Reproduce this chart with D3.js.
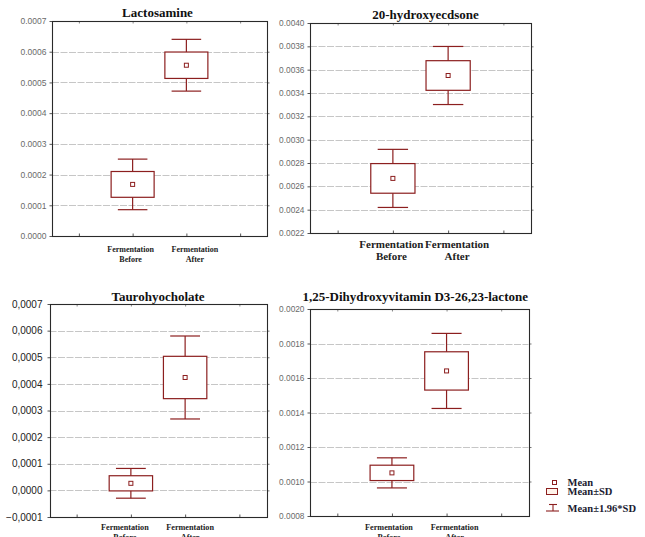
<!DOCTYPE html>
<html><head><meta charset="utf-8">
<script src="https://cdn.jsdelivr.net/npm/d3@7"></script>
<style>
html,body{margin:0;padding:0;background:#fff;}
svg{display:block;}
</style></head>
<body>
<svg id="chart" width="645" height="537"></svg>
<script>
// ---------------- data ----------------
const categories = ["Before", "After"];
const categoryLabelTop = "Fermentation";

const lactosamineMean = [0.000168, 0.000556];
const lactosamineSD   = [0.000042, 0.000043];
const lactosamineTicks = [0.0000, 0.0001, 0.0002, 0.0003, 0.0004, 0.0005, 0.0006, 0.0007];

const hydroxyecdsoneMean = [0.002668, 0.003550];
const hydroxyecdsoneSD   = [0.000127, 0.000127];
const hydroxyecdsoneTicks = [0.0022, 0.0024, 0.0026, 0.0028, 0.0030, 0.0032, 0.0034, 0.0036, 0.0038, 0.0040];

const taurohyocholateMean = [0.0000265, 0.000424];
const taurohyocholateSD   = [0.0000285, 0.0000795];
const taurohyocholateTicks = [-0.0001, 0.0000, 0.0001, 0.0002, 0.0003, 0.0004, 0.0005, 0.0006, 0.0007];

const vitaminMean = [0.001050, 0.001641];
const vitaminSD   = [0.0000445, 0.000111];
const vitaminTicks = [0.0008, 0.0010, 0.0012, 0.0014, 0.0016, 0.0018, 0.0020];

const legendLabels = ["Mean", "Mean\u00B1SD", "Mean\u00B11.96*SD"];
const whiskerFactor = 1.96;

// ---------------- layout ----------------
const BOX = "#8c1f1f";
const svg = d3.select("#chart");
const commaFmt = d3.formatLocale({decimal: ",", thousands: ".", grouping: [3], currency: ["", ""]}).format(".4f");
const dotFmt = d3.format(".4f");

const panels = [
  {title: "Lactosamine", mean: lactosamineMean, sd: lactosamineSD, ticks: lactosamineTicks,
   l: 52, r: 267, t: 21, b: 236, titleY: 16.5, titleDx: -2,
   fmt: dotFmt, tickFont: 8.5, tickColor: "#6a6a6a", tickGap: 3,
   xFont: 8, xY1: 16, xY2: 26, labelDx: [-2, 8.5]},
  {title: "20-hydroxyecdsone", mean: hydroxyecdsoneMean, sd: hydroxyecdsoneSD, ticks: hydroxyecdsoneTicks,
   l: 310, r: 531, t: 23, b: 233, titleY: 18.5, titleDx: 5,
   fmt: dotFmt, tickFont: 8.3, tickColor: "#6a6a6a", tickGap: 3,
   xFont: 11, xY1: 14.5, xY2: 27, labelDx: [-1.5, 9]},
  {title: "Taurohyocholate", mean: taurohyocholateMean, sd: taurohyocholateSD, ticks: taurohyocholateTicks,
   l: 49.5, r: 266.5, t: 304, b: 517, titleY: 301, titleDx: 0,
   fmt: commaFmt, tickFont: 10, tickColor: "#222", tickGap: 5,
   xFont: 8.2, xY1: 13, xY2: 23, labelDx: [-6, 5]},
  {title: "1,25-Dihydroxyvitamin D3-26,23-lactone", mean: vitaminMean, sd: vitaminSD, ticks: vitaminTicks,
   l: 310, r: 528.5, t: 309, b: 516, titleY: 300.5, titleDx: -4,
   fmt: dotFmt, tickFont: 8.3, tickColor: "#6a6a6a", tickGap: 3,
   xFont: 8.2, xY1: 13.5, xY2: 23.5, labelDx: [-3, 8]}
];

const xSlots = ["pad0", ...categories, "pad3"];

panels.forEach(p => {
  const g = svg.append("g");
  const x = d3.scalePoint().domain(xSlots).range([p.l, p.r]).padding(0.5);
  const y = d3.scaleLinear().domain(d3.extent(p.ticks)).range([p.b, p.t]);
  const step = x.step();

  // gridlines
  g.selectAll(".grid").data(p.ticks.slice(1, -1)).join("line")
    .attr("x1", p.l).attr("x2", p.r)
    .attr("y1", d => Math.round(y(d)) + 0.5).attr("y2", d => Math.round(y(d)) + 0.5)
    .attr("stroke", "#c6c6c6").attr("stroke-width", 1).attr("stroke-dasharray", "7,1.5");

  // y axis (left)
  const yAxis = d3.axisLeft(y).tickValues(p.ticks).tickFormat(p.fmt).tickSize(3).tickPadding(p.tickGap);
  const ya = g.append("g").attr("transform", `translate(${Math.round(p.l) + 0.5},0)`).call(yAxis);
  ya.select(".domain").remove();
  ya.selectAll(".tick line").attr("stroke", "#555");
  ya.selectAll("text").attr("font-family", "Liberation Sans, Arial, sans-serif")
    .attr("font-size", p.tickFont).attr("fill", p.tickColor);

  // right ticks
  const yr = g.append("g").attr("transform", `translate(${Math.round(p.r) + 0.5},0)`)
    .call(d3.axisRight(y).tickValues(p.ticks.slice(1, -1)).tickSize(2).tickFormat(""));
  yr.select(".domain").remove();
  yr.selectAll(".tick line").attr("stroke", "#777");

  // x axis ticks (inward) bottom and top
  const xb = g.append("g").attr("transform", `translate(0,${Math.round(p.b) + 0.5})`)
    .call(d3.axisTop(x).tickSize(3).tickFormat(""));
  xb.select(".domain").remove();
  xb.selectAll(".tick line").attr("stroke", "#555");
  const xt = g.append("g").attr("transform", `translate(0,${Math.round(p.t) + 0.5})`)
    .call(d3.axisBottom(x).tickSize(2).tickFormat(""));
  xt.select(".domain").remove();
  xt.selectAll(".tick line").attr("stroke", "#888");

  // frame
  g.append("rect")
    .attr("x", Math.round(p.l) + 0.5).attr("y", Math.round(p.t) + 0.5)
    .attr("width", Math.round(p.r) - Math.round(p.l)).attr("height", Math.round(p.b) - Math.round(p.t))
    .attr("fill", "none").attr("stroke", "#2a2a2a").attr("stroke-width", 1.1);

  // category labels
  categories.forEach((c, i) => {
    const cx = x(c) + p.labelDx[i];
    const t = g.append("text").attr("x", cx).attr("text-anchor", "middle")
      .attr("font-family", "Liberation Serif, Times New Roman, serif").attr("font-weight", "bold")
      .attr("font-size", p.xFont).attr("fill", "#222");
    t.append("tspan").attr("x", cx).attr("y", p.b + p.xY1).text(categoryLabelTop);
    t.append("tspan").attr("x", cx).attr("y", p.b + p.xY2).text(c);
  });

  // title
  g.append("text").attr("x", (p.l + p.r) / 2 + p.titleDx).attr("y", p.titleY)
    .attr("text-anchor", "middle")
    .attr("font-family", "Liberation Serif, Times New Roman, serif").attr("font-weight", "bold")
    .attr("font-size", 13).attr("fill", "#111").text(p.title);

  // boxes
  const data = categories.map((c, i) => ({c, m: p.mean[i], s: p.sd[i]}));
  const bw = step * 0.8, cw = step * 0.55;
  const bx = g.selectAll(".bx").data(data).join("g");
  bx.append("line").attr("x1", d => x(d.c)).attr("x2", d => x(d.c))
    .attr("y1", d => y(d.m + whiskerFactor * d.s)).attr("y2", d => y(d.m - whiskerFactor * d.s))
    .attr("stroke", BOX).attr("stroke-width", 1.2);
  bx.append("line").attr("x1", d => x(d.c) - cw / 2).attr("x2", d => x(d.c) + cw / 2)
    .attr("y1", d => y(d.m + whiskerFactor * d.s)).attr("y2", d => y(d.m + whiskerFactor * d.s))
    .attr("stroke", BOX).attr("stroke-width", 1.2);
  bx.append("line").attr("x1", d => x(d.c) - cw / 2).attr("x2", d => x(d.c) + cw / 2)
    .attr("y1", d => y(d.m - whiskerFactor * d.s)).attr("y2", d => y(d.m - whiskerFactor * d.s))
    .attr("stroke", BOX).attr("stroke-width", 1.2);
  bx.append("rect").attr("x", d => x(d.c) - bw / 2).attr("width", bw)
    .attr("y", d => y(d.m + d.s)).attr("height", d => y(d.m - d.s) - y(d.m + d.s))
    .attr("fill", "#fff").attr("stroke", BOX).attr("stroke-width", 1.2);
  bx.append("rect").attr("x", d => x(d.c) - 2).attr("y", d => y(d.m) - 2)
    .attr("width", 4).attr("height", 4)
    .attr("fill", "#fff").attr("stroke", BOX).attr("stroke-width", 1);
});

// ---------------- legend ----------------
const lg = svg.append("g");
const lx = 567.5, ly = [485.5, 495, 512];
lg.append("rect").attr("x", 552.5).attr("y", 480.5).attr("width", 4).attr("height", 4)
  .attr("fill", "#fff").attr("stroke", BOX).attr("stroke-width", 1);
lg.append("rect").attr("x", 546.5).attr("y", 488.5).attr("width", 11).attr("height", 6)
  .attr("fill", "#fff3ea").attr("stroke", BOX).attr("stroke-width", 1);
lg.append("line").attr("x1", 549).attr("x2", 557).attr("y1", 504.5).attr("y2", 504.5).attr("stroke", BOX).attr("stroke-width", 1.1);
lg.append("line").attr("x1", 553).attr("x2", 553).attr("y1", 504.5).attr("y2", 511).attr("stroke", BOX).attr("stroke-width", 1.1);
lg.append("line").attr("x1", 546).attr("x2", 559).attr("y1", 511).attr("y2", 511).attr("stroke", BOX).attr("stroke-width", 1.1);
lg.selectAll(".lt").data(legendLabels).join("text")
  .attr("x", lx).attr("y", (d, i) => ly[i])
  .attr("font-family", "Liberation Serif, Times New Roman, serif").attr("font-weight", "bold")
  .attr("font-size", 10.5).attr("fill", "#1a1a30").text(d => d);
</script>
</body></html>
